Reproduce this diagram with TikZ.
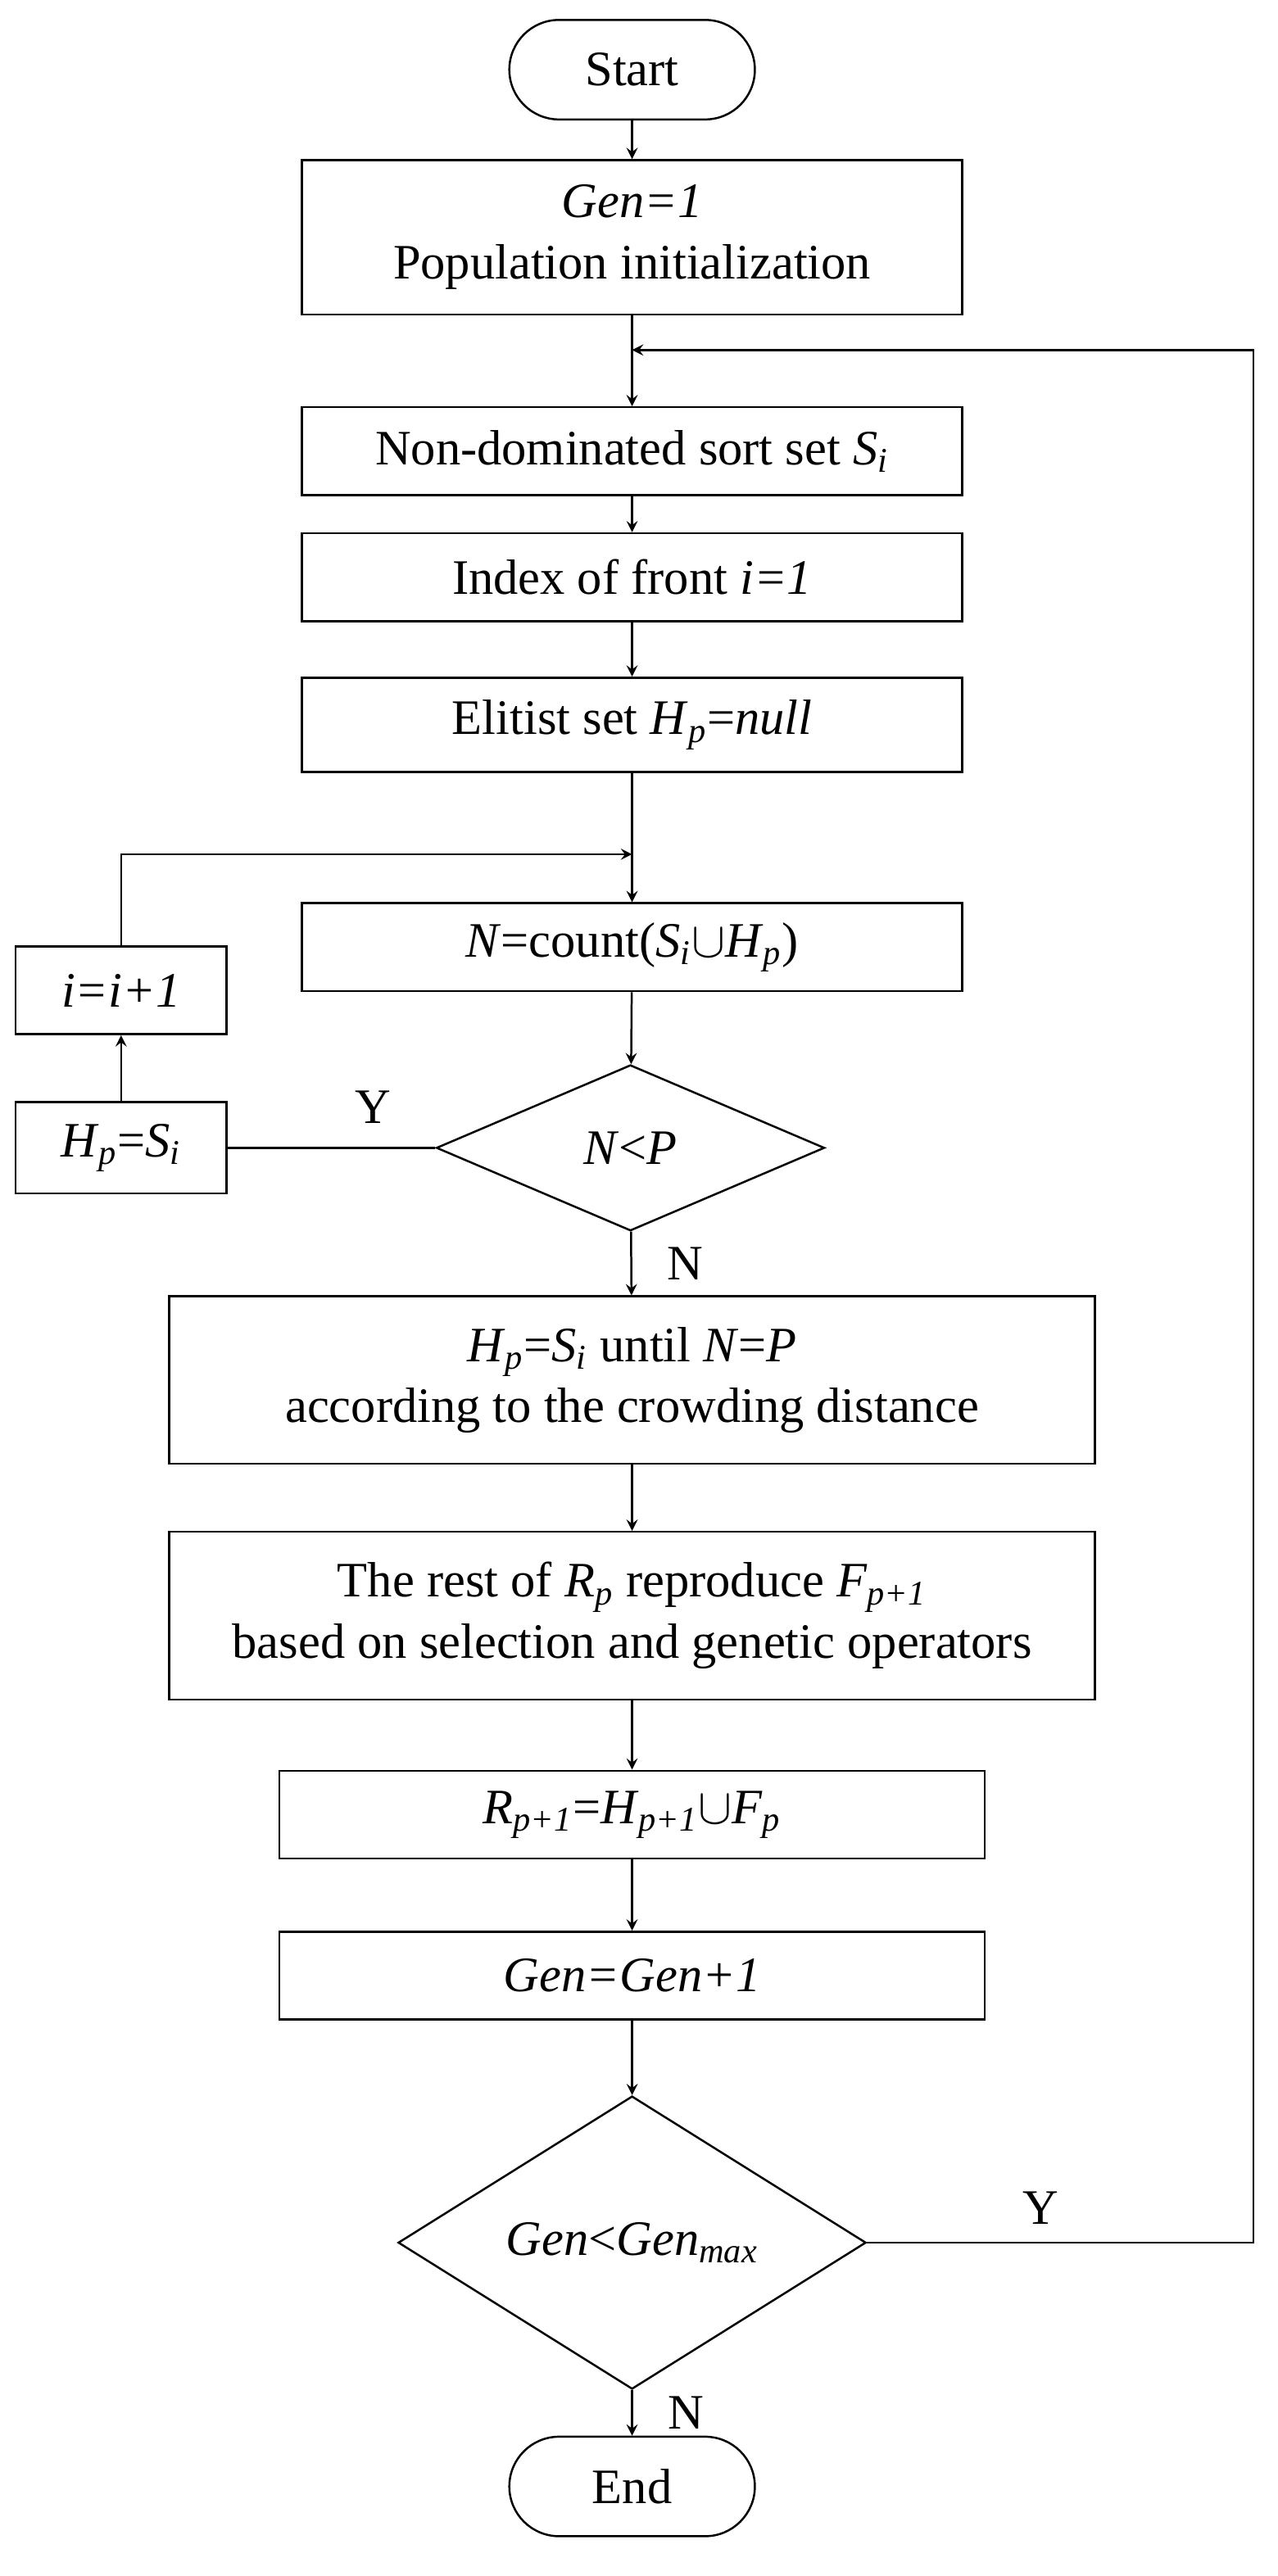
\documentclass[tikz,border=0pt]{standalone}
\usepackage{fontspec}
\setmainfont{Liberation Serif}
\usetikzlibrary{shapes.geometric,positioning}
\newcommand{\sbs}[1]{\textsubscript{#1}}
\begin{document}
\begin{tikzpicture}
    [x=0.2mm, y=-0.2mm, >=stealth, line width=0.7pt,
    every node/.style={font=\fontsize{17}{21}\selectfont, align=center, inner sep=0pt},
    proc/.style={rectangle, draw, minimum width=7.96cm, minimum height=1.06cm},
    wide/.style={rectangle, draw, minimum width=11.16cm, minimum height=2.02cm},
    mid/.style={rectangle, draw, minimum width=8.5cm, minimum height=1.06cm},
    small/.style={rectangle, draw, minimum width=2.54cm, minimum height=1.1cm},
    term/.style={rectangle, rounded corners=0.6cm, draw, minimum width=2.96cm, minimum height=1.2cm},
    dec/.style={diamond, draw}]

  \useasboundingbox (0,0) rectangle (770,1553);

  \node[term] (start) at (381,42) {Start};
  \node[proc, minimum height=1.86cm] (init) at (381,143) {\textit{Gen=1}\\Population initialization};
  \node[proc] (sort) at (381,272) {Non-dominated sort set \textit{S}\sbs{\textit{i}}};
  \node[proc] (index) at (381,348) {Index of front \textit{i=1}};
  \node[proc, minimum height=1.14cm] (elite) at (381,437) {Elitist set \textit{H}\sbs{\textit{p}}=\textit{null}};
  \node[proc] (count) at (381,571) {\textit{N}=count(\textit{S}\sbs{\textit{i}}$\cup$\textit{H}\sbs{\textit{p}})};
  \node[dec, minimum width=4.68cm, minimum height=2.0cm] (cmp) at (380,692) {\textit{N}<\textit{P}};
  \node[small] (hp) at (73,692) {\textit{H}\sbs{\textit{p}}=\textit{S}\sbs{\textit{i}}};
  \node[small, minimum height=1.06cm] (inc) at (73,597) {\textit{i=i+1}};
  \node[wide] (crowd) at (381,832) {\textit{H}\sbs{\textit{p}}=\textit{S}\sbs{\textit{i}} until \textit{N}=\textit{P}\\according to the crowding distance};
  \node[wide] (repro) at (381,974) {The rest of \textit{R}\sbs{\textit{p}} reproduce \textit{F}\sbs{\textit{p+1}}\\based on selection and genetic operators};
  \node[mid] (merge) at (381,1094) {\textit{R}\sbs{\textit{p+1}}=\textit{H}\sbs{\textit{p+1}}$\cup$\textit{F}\sbs{\textit{p}}};
  \node[mid] (gen) at (381,1191) {\textit{Gen=Gen+1}};
  \node[dec, minimum width=5.64cm, minimum height=3.38cm] (stop) at (381,1352) {\textit{Gen}<\textit{Gen}\sbs{\textit{max}}};
  \node[term] (end) at (381,1499) {End};

  \coordinate (loop) at (381,211);
  \coordinate (join) at (381,515);

  \draw[->] (start) -- (init);
  \draw[->] (init) -- (sort);
  \draw[->] (sort) -- (index);
  \draw[->] (index) -- (elite);
  \draw (elite) -- (join);
  \draw[->] (join) -- (count);
  \draw[->] (count) -- (cmp);
  \draw (cmp) -- node[above=8pt, pos=0.3] {Y} (hp);
  \draw[->] (hp) -- (inc);
  \draw[->] (inc.north) |- (join);
  \draw[->] (cmp) -- node[right=12pt, pos=0.5] {N} (crowd);
  \draw[->] (crowd) -- (repro);
  \draw[->] (repro) -- (merge);
  \draw[->] (merge) -- (gen);
  \draw[->] (gen) -- (stop);
  \draw[->] (stop) -- node[right=12pt] {N} (end);
  \draw[->] (stop.east) -- node[above=6pt, pos=0.45] {Y} ++(233,0) |- (loop);

\end{tikzpicture}
\end{document}
